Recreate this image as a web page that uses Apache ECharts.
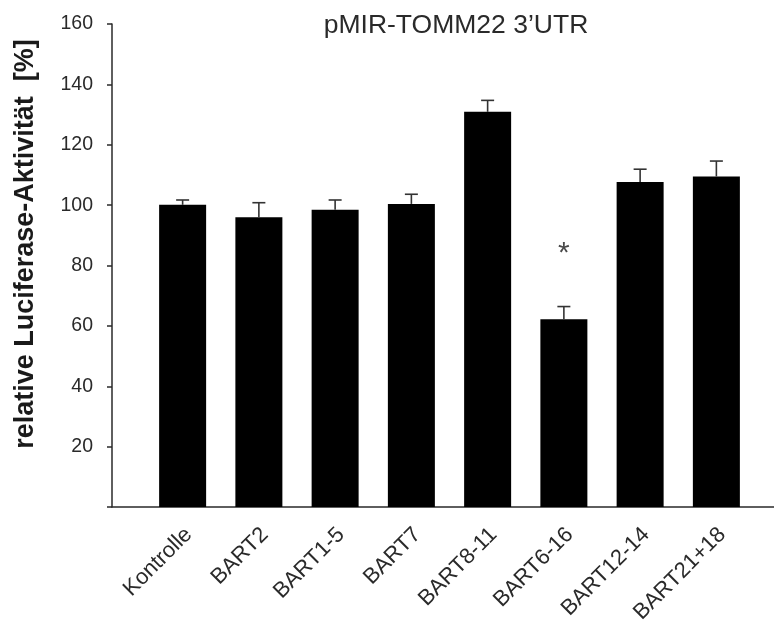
<!DOCTYPE html>
<html>
<head>
<meta charset="utf-8">
<script src="https://cdn.jsdelivr.net/npm/echarts@6/dist/echarts.min.js"></script>
<style>
  html, body { margin: 0; padding: 0; background: #fff; }
  #chart { width: 774px; height: 626px; }
</style>
</head>
<body>
<div id="chart"></div>
<script>
// Relative luciferase activity of the pMIR-TOMM22 3'UTR reporter
const categories = ['Kontrolle', 'BART2', 'BART1-5', 'BART7', 'BART8-11', 'BART6-16', 'BART12-14', 'BART21+18'];
const activity = [100.1, 96.0, 98.5, 100.4, 130.9, 62.2, 107.7, 109.5];
const errorUp = [1.6, 4.8, 3.2, 3.2, 3.8, 4.2, 4.2, 5.1];
const significant = [[5, 84]];            // category index, height of the "*" marker
const yTicks = [0, 20, 40, 60, 80, 100, 120, 140, 160];

const FONT = '"Liberation Sans", Arial, Helvetica, sans-serif';
const INK = '#2a2a2a';

const chart = echarts.init(document.getElementById('chart'), null, { renderer: 'canvas' });

chart.setOption({
  animation: false,
  backgroundColor: '#ffffff',
  title: {
    text: "pMIR-TOMM22 3\u2019UTR",
    left: 456,
    top: 12,
    textAlign: 'center',
    padding: 0,
    textStyle: { fontFamily: FONT, fontSize: 26.5, fontWeight: 'normal', color: INK }
  },
  graphic: [{
    type: 'text',
    x: 26,
    y: 244,
    rotation: Math.PI / 2,
    style: {
      text: 'relative Luciferase-Aktivit\u00e4t  [%]',
      font: 'bold 27px ' + FONT,
      fill: '#1a1a1a',
      align: 'center',
      verticalAlign: 'middle'
    }
  }],
  grid: [
    // frame grid: carries the axis lines and the y ticks
    { left: 112, right: 0, top: 24, bottom: 119 },
    // plotting grid for the bars
    { left: 144.5, right: 19.5, top: 24, bottom: 119 },
    // label grid: same band width, nudged right so the rotated names end just past each bar centre
    { left: 150.5, right: 13.5, top: 24, bottom: 119 }
  ],
  xAxis: [
    {
      type: 'value', gridIndex: 0, min: 0, max: 1,
      axisLine: { show: true, lineStyle: { color: INK, width: 1.5 } },
      axisTick: { show: false }, axisLabel: { show: false }, splitLine: { show: false }
    },
    {
      type: 'category', gridIndex: 1, data: categories,
      axisLine: { show: false }, axisTick: { show: false }, splitLine: { show: false },
      axisLabel: { show: false }
    },
    {
      type: 'category', gridIndex: 2, data: categories,
      axisLine: { show: false }, axisTick: { show: false }, splitLine: { show: false },
      axisLabel: {
        rotate: 45, margin: 25, interval: 0,
        fontFamily: FONT, fontSize: 22, color: INK
      }
    }
  ],
  yAxis: [
    {
      type: 'value', gridIndex: 0, min: yTicks[0], max: yTicks[yTicks.length - 1], interval: 20,
      axisLine: { show: true, lineStyle: { color: INK, width: 1.5 } },
      axisTick: { show: true, inside: false, length: 5, lineStyle: { color: INK, width: 1.5 } },
      axisLabel: {
        margin: 19, fontFamily: FONT, fontSize: 19.5, color: INK,
        formatter: v => (v === 0 ? '' : String(v))
      },
      splitLine: { show: false }
    },
    {
      type: 'value', gridIndex: 1, min: yTicks[0], max: yTicks[yTicks.length - 1], interval: 20,
      show: false, splitLine: { show: false }
    },
    {
      type: 'value', gridIndex: 2, min: yTicks[0], max: yTicks[yTicks.length - 1], interval: 20,
      show: false, splitLine: { show: false }
    }
  ],
  series: [
    {
      type: 'bar',
      xAxisIndex: 1, yAxisIndex: 1,
      data: activity,
      barWidth: 47,
      itemStyle: { color: '#000000' }
    },
    {
      type: 'custom',
      xAxisIndex: 1, yAxisIndex: 1,
      data: activity.map((v, i) => [i, v, v + errorUp[i]]),
      z: 3,
      renderItem: function (params, api) {
        const base = api.coord([api.value(0), api.value(1)]);
        const top = api.coord([api.value(0), api.value(2)]);
        const half = 6.5;
        const style = { stroke: '#333333', lineWidth: 1.6 };
        return {
          type: 'group',
          children: [
            { type: 'line', shape: { x1: base[0], y1: base[1], x2: top[0], y2: top[1] }, style },
            { type: 'line', shape: { x1: top[0] - half, y1: top[1], x2: top[0] + half, y2: top[1] }, style }
          ]
        };
      }
    },
    {
      type: 'scatter',
      xAxisIndex: 1, yAxisIndex: 1,
      data: significant,
      symbolSize: 0,
      label: {
        show: true, position: 'inside', formatter: '*',
        fontFamily: FONT, fontSize: 30, color: '#1a1a1a'
      }
    }
  ]
});
</script>
</body>
</html>
